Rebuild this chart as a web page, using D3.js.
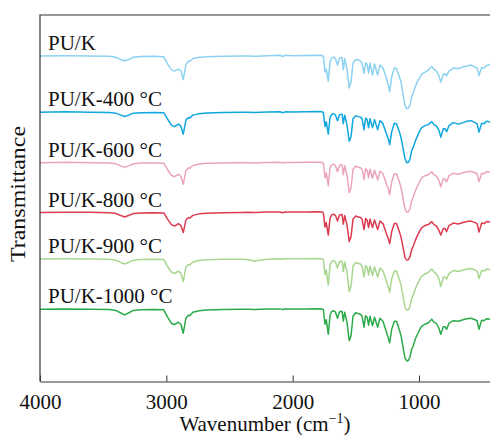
<!DOCTYPE html>
<html>
<head>
<meta charset="utf-8">
<script src="https://cdn.jsdelivr.net/npm/d3@7"></script>
<style>
  body { margin: 0; background: #fff; }
  svg { display: block; font-family: "Liberation Serif", "Times New Roman", serif; }
</style>
</head>
<body>
<div class="canvas"></div>
<script>
// wavenumbers (cm-1), shared by all spectra
const wavenumber = [
  4000, 3800, 3600, 3450, 3400, 3360, 3330, 3300, 3260, 3200,
  3100, 3020, 2990, 2960, 2935, 2905, 2885, 2866, 2845, 2825,
  2815, 2790, 2740, 2680, 2550, 2400, 2350, 2300, 2200, 2100,
  2080, 2060, 2000, 1900, 1800, 1765, 1757, 1744, 1734, 1718,
  1704, 1692, 1678, 1661, 1645, 1629, 1609, 1599, 1588, 1570,
  1552, 1538, 1522, 1501, 1480, 1463, 1451, 1435, 1423, 1411,
  1399, 1388, 1368, 1352, 1327, 1309, 1285, 1261, 1241, 1232,
  1216, 1195, 1178, 1158, 1142, 1124, 1111, 1097, 1083, 1071,
  1058, 1045, 1031, 1018, 997, 978, 952, 926, 899, 881,
  861, 841, 828, 807, 794, 781, 763, 728, 689, 651,
  620, 588, 556, 540, 525, 504, 485, 464, 438, 400
];

// transmittance change from each spectrum's baseline (a.u.)
const puK = [
  0, 0.2, 0.1, -0.3, -1.2, -3.5, -5, -3.5, -1.2, -0.5,
  -0.3, -0.6, -8, -13.5, -15, -13, -14.5, -23.5, -8.5, -5,
  -5.5, -2.5, -1.2, -0.6, -0.3, 0, 0.1, -0.2, 0.4, 0.8,
  -0.4, 0.8, 0.4, 0.6, 0.8, 0.5, -0.5, -16, -13, -25,
  -6, -2, -1, -2.5, -9, -2, -1.5, -13.5, -2.5, -13,
  -32, -26, -7, -3.5, -4, -5, -7, -17.5, -7, -8,
  -17, -7, -19, -8, -19, -9, -12, -21, -30, -35.5,
  -21, -12, -12.5, -20, -26, -40, -49, -52.5, -52, -49,
  -41, -37, -31, -27, -22, -18, -16, -14, -10.5, -13,
  -15, -20, -26, -18, -18, -19.5, -15, -12, -12.5, -11,
  -10, -9, -11, -12, -19.5, -11.5, -12, -9.5, -8.5, -8
];
const puK400 = [
  0, 0.3, 0, -0.3, -1, -3, -4.3, -3, -1, -0.5,
  -0.3, -0.5, -7, -13, -14.5, -12, -14, -22, -8, -5.5,
  -6, -3, -1.5, -0.8, -0.3, 0, 0, -0.3, 0.2, 0.4,
  -0.6, 0.3, 0.2, 0.4, 0.6, 0.3, -0.5, -14.5, -9.5, -22,
  -5.5, -2.5, -1.5, -3, -8.5, -2.5, -2, -11.5, -3, -12.5,
  -29, -24.5, -6.5, -3.5, -4.5, -5, -6.5, -17.5, -6, -7.5,
  -15.5, -6.5, -15.5, -7.5, -17.5, -8.5, -11.5, -20.5, -27.5, -32.5,
  -19.5, -11, -11.5, -18.5, -25.5, -37.5, -46.5, -50.5, -50, -46.5,
  -38.5, -35, -29.5, -25.5, -19.5, -15.5, -13.5, -12.5, -9.5, -12.5,
  -14, -18.5, -25, -16.5, -16.5, -19.5, -13.5, -10.5, -12, -10.5,
  -9, -8.5, -10.5, -11.5, -20, -11, -11.5, -9, -10, -9.5
];
const puK600 = [
  0, 0.4, 0, -0.2, -1, -3.2, -4.7, -3.2, -1, -0.4,
  -0.2, -0.5, -7, -12.5, -14, -11.5, -13.5, -21.5, -8, -5,
  -5.5, -2.8, -1.3, -0.6, -0.2, 0.1, 0, -0.2, 0.3, 0.4,
  -0.3, 0.3, 0.3, 0.4, 0.5, 0.3, -0.5, -15, -10, -23,
  -5.5, -2.5, -1.5, -3, -9, -2.5, -2, -12, -3, -12.5,
  -30, -25, -6.5, -3.5, -4.5, -5, -6.5, -17, -6, -7.5,
  -15, -6.5, -15.5, -7.5, -17, -8.5, -11, -20, -27, -32,
  -19, -11, -11, -18, -25, -37, -46, -49.5, -49, -45.5,
  -38, -34.5, -29, -25, -19.5, -15, -13, -12, -9, -12,
  -13.5, -18, -24, -16, -16.5, -19, -13, -10.5, -11.5, -10,
  -9, -8.5, -10, -11, -19, -10.5, -11, -9, -9.5, -9
];
const puK800 = [
  0, 0.3, 0.2, -0.2, -0.9, -3, -4.4, -3, -1, -0.4,
  -0.2, -0.4, -6.5, -12, -13.5, -11, -13, -20, -7.5, -5,
  -5.5, -2.8, -1.3, -0.7, -0.2, 0.1, 0.3, 0, 0.5, 0.6,
  -0.2, 0.5, 0.5, 0.6, 0.8, 0.5, -0.5, -14.5, -10, -22.5,
  -5.5, -2.5, -1.5, -3, -8.5, -2.5, -2, -11.5, -3, -12,
  -29, -24, -6.5, -3.5, -4.5, -5, -6.5, -17, -6, -7.5,
  -15, -6.5, -15, -7.5, -17, -8.5, -11, -20, -27, -31,
  -19, -11, -11, -18, -24.5, -36, -45, -47.5, -47, -44,
  -37, -33.5, -28.5, -24.5, -19, -15, -13, -12, -9, -12,
  -13.5, -18, -22.5, -16, -16, -19, -13, -10.5, -11.5, -10,
  -9, -8.5, -10, -11, -19.5, -10.5, -11, -9, -9.5, -9.5
];
const puK900 = [
  0, 0.2, 0, -0.3, -1.1, -3.4, -5, -3.4, -1.1, -0.5,
  -0.3, -0.5, -7.5, -13, -14.5, -12, -14, -22.5, -8, -5.5,
  -6, -3, -1.5, -0.8, -0.3, -0.3, -0.8, -2, -0.3, 0.3,
  -0.3, 0.3, 0.3, 0.4, 0.5, 0.3, -0.5, -15.5, -11, -26,
  -6, -2.5, -1.5, -3, -9, -2.5, -2, -12.5, -3, -13,
  -32.5, -27, -7, -3.5, -4.5, -5, -7, -18, -6.5, -8,
  -16, -7, -16.5, -8, -18, -9, -12, -21, -29, -33,
  -20, -12, -12, -19.5, -26, -39, -48, -51, -50.5, -47,
  -39.5, -36, -30.5, -26.5, -21, -17, -15, -13.5, -10, -13,
  -15, -20, -27.5, -18, -18, -20, -14.5, -11.5, -12.5, -11,
  -10, -9.5, -11, -12, -19.5, -11.5, -12, -10, -10.5, -10.5
];
const puK1000 = [
  0, 0.3, 0, -0.3, -1.2, -3.8, -5.7, -3.8, -1.2, -0.5,
  -0.3, -0.6, -8, -14, -15.5, -13, -15, -24, -9, -6,
  -6.5, -3, -1.5, -0.8, -0.3, 0, 0, -0.3, 0.2, 0.3,
  -0.4, 0.2, 0.2, 0.3, 0.4, 0.2, -0.5, -15, -10.5, -25,
  -6, -2.5, -1.5, -3, -9, -2.5, -2, -12, -3, -13,
  -31.5, -26.5, -7, -3.5, -4.5, -5, -7, -18, -6.5, -8,
  -16, -7, -16.5, -8, -18, -9, -12, -21.5, -29.5, -33.5,
  -20, -12, -12, -19.5, -26.5, -39.5, -48.5, -51.7, -51, -47.5,
  -40, -36.5, -30.5, -26.5, -21, -17, -15, -13.5, -10, -13,
  -14.5, -19.5, -25, -17.5, -17.5, -20, -14, -11.5, -12, -10.5,
  -9.5, -9, -10.5, -11.5, -20, -11, -11.5, -9.5, -10, -10
];

const seriesNames = ['PU/K', 'PU/K-400 \u00B0C', 'PU/K-600 \u00B0C', 'PU/K-800 \u00B0C', 'PU/K-900 \u00B0C', 'PU/K-1000 \u00B0C'];
const seriesValues = [puK, puK400, puK600, puK800, puK900, puK1000];
// vertical stacking offset of each spectrum (a.u.)
const offsets = [325, 269, 218.5, 168.7, 122.3, 72.2];
const colors = ['#8dd2f0', '#10a6de', '#eba4bf', '#dc3a4e', '#a9d68f', '#2caa4a'];
const xTicks = [4000, 3000, 2000, 1000];

const WIDTH = 490, HEIGHT = 435;
const MARGIN = { left: 40, top: 15, bottom: 53.5 };
const PLOT_RIGHT = 40 + 3600 * 0.12633;

const svg = d3.select('.canvas').append('svg')
  .attr('width', WIDTH)
  .attr('height', HEIGHT);

const x = d3.scaleLinear().domain([4000, 400]).range([MARGIN.left, PLOT_RIGHT]);
const y = d3.scaleLinear().domain([0, 366]).range([HEIGHT - MARGIN.bottom, MARGIN.top]);

svg.append('clipPath').attr('id', 'plot-clip')
  .append('rect')
  .attr('x', MARGIN.left).attr('y', MARGIN.top)
  .attr('width', PLOT_RIGHT - MARGIN.left)
  .attr('height', y(0) - MARGIN.top);

//spectra
const line = d3.line()
  .x((d, i) => x(wavenumber[i]))
  .y(d => y(d));

const lines = svg.append('g').attr('clip-path', 'url(#plot-clip)');
seriesValues.forEach((vals, k) => {
  lines.append('path')
    .datum(vals.map(v => v + offsets[k]))
    .attr('fill', 'none')
    .attr('stroke', colors[k])
    .attr('stroke-width', 1.5)
    .attr('stroke-linejoin', 'round')
    .attr('d', line);
});

//series labels
svg.append('g').selectAll('text')
  .data(seriesNames)
  .join('text')
  .attr('x', MARGIN.left + 8)
  .attr('y', (d, k) => y(offsets[k]) - 6)
  .attr('font-size', 21)
  .attr('fill', '#111')
  .text(d => d);

//frame
svg.append('path')
  .attr('d', `M${PLOT_RIGHT},${MARGIN.top}H${MARGIN.left}V${y(0)}`)
  .attr('fill', 'none')
  .attr('stroke', '#333')
  .attr('stroke-width', 1.2);

//x axis
const xAxisGroup = svg.append('g')
  .attr('transform', `translate(0, ${y(0)})`)
  .call(d3.axisBottom(x).tickValues(xTicks).tickFormat(d3.format('d'))
    .tickSizeInner(-6).tickSizeOuter(0).tickPadding(13));
xAxisGroup.select('.domain').attr('stroke', '#333').attr('stroke-width', 1.2);
xAxisGroup.selectAll('.tick line').attr('stroke', '#333');
xAxisGroup.selectAll('.tick text')
  .attr('font-family', '"Liberation Serif", "Times New Roman", serif')
  .attr('font-size', 21)
  .attr('fill', '#111');

//axis titles
const xTitle = svg.append('text')
  .attr('x', 265)
  .attr('y', 431)
  .attr('text-anchor', 'middle')
  .attr('font-size', 21)
  .attr('fill', '#111');
xTitle.append('tspan').text('Wavenumber (cm');
xTitle.append('tspan').attr('font-size', 14).attr('dy', -8).text('\u22121');
xTitle.append('tspan').attr('dy', 8).text(')');

svg.append('text')
  .attr('transform', 'translate(25, 194) rotate(-90)')
  .attr('text-anchor', 'middle')
  .attr('font-size', 22)
  .attr('textLength', 136)
  .attr('lengthAdjust', 'spacingAndGlyphs')
  .attr('fill', '#111')
  .text('Transmittance');
</script>
</body>
</html>
